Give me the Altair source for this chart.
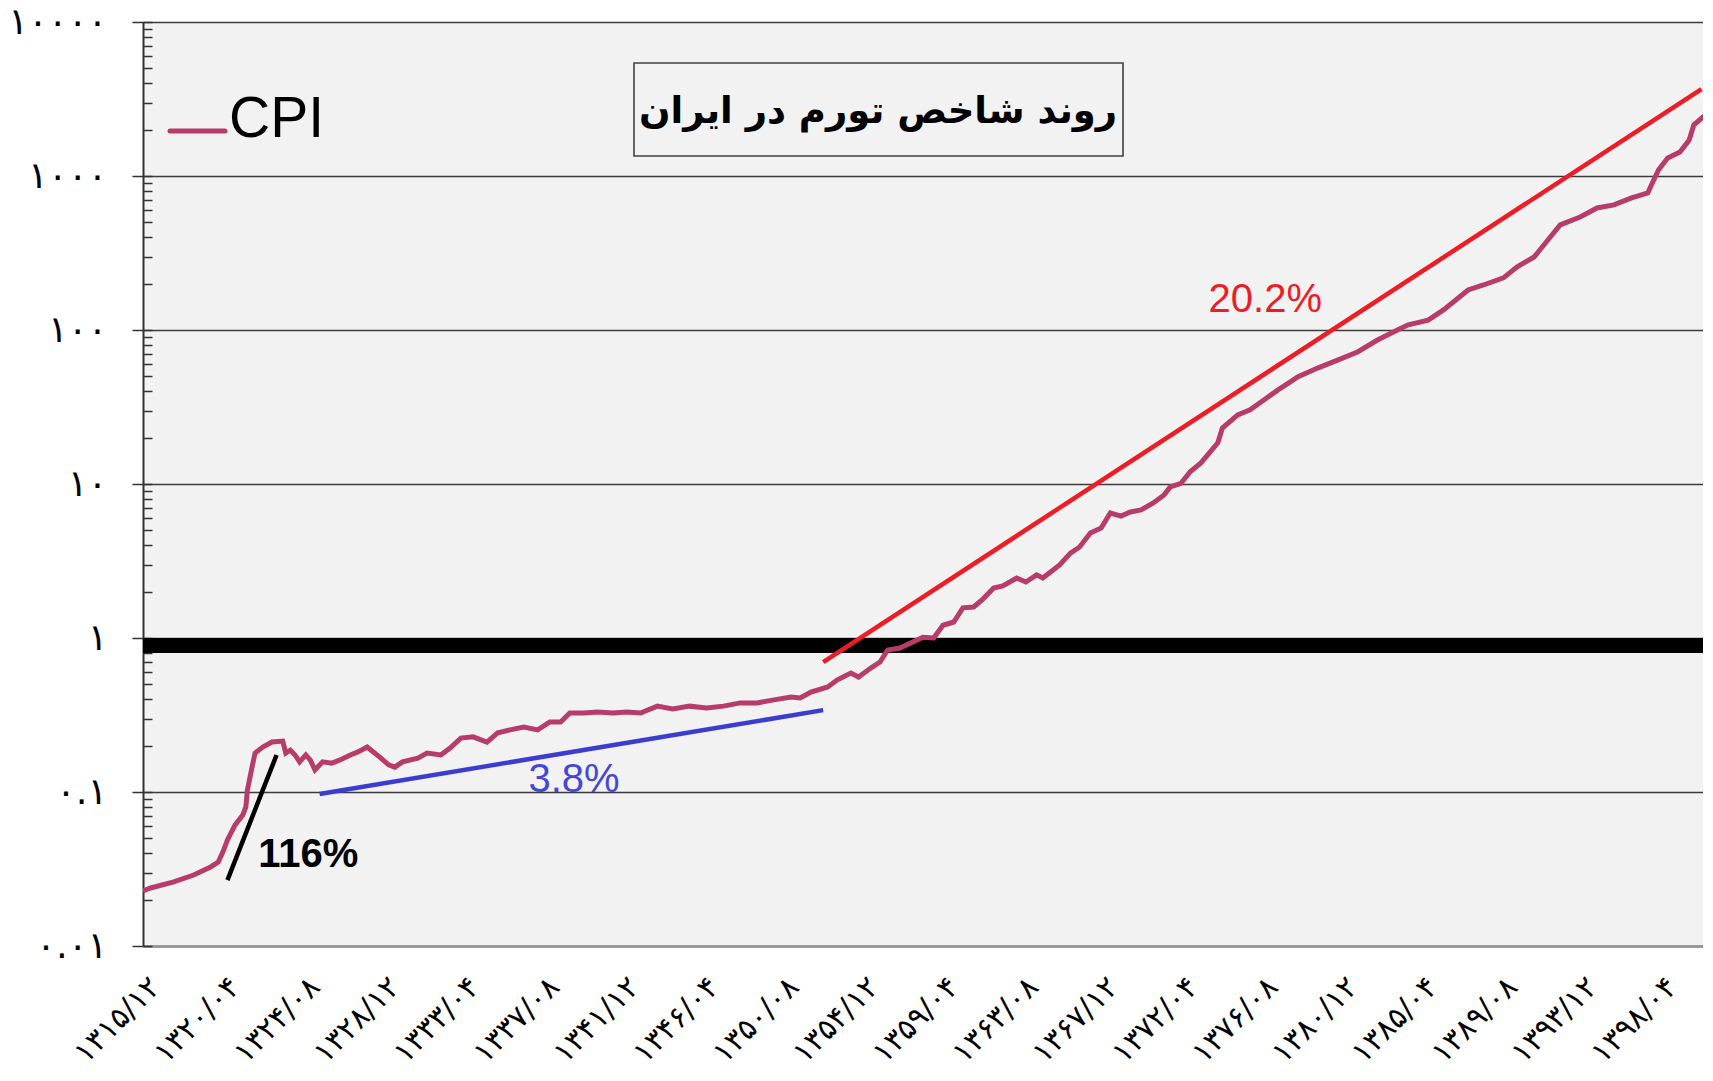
import altair as alt
import pandas as pd

# ---- data (month index counted from 1315/12) ----
month_index = [0, 5, 20, 33, 44, 49, 52, 55, 60, 65,
               67, 68, 71, 73, 78, 84, 91, 93, 96, 99,
               102, 106, 109, 112, 117, 123, 128, 135, 140, 146,
               150, 154, 160, 164, 169, 179, 185, 194, 200, 207,
               215, 224, 231, 239, 248, 257, 265, 272, 278, 287,
               296, 306, 315, 324, 335, 345, 356, 367, 378, 389,
               400, 410, 422, 428, 435, 446, 452, 461, 466, 474,
               480, 485, 493, 500, 508, 515, 521, 528, 534, 541,
               547, 554, 560, 569, 575, 582, 586, 597, 604, 610,
               617, 624, 630, 637, 643, 650, 658, 665, 669, 676,
               682, 689, 700, 703, 713, 721, 730, 739, 747, 752,
               765, 778, 791, 804, 817, 824, 837, 847, 863, 873,
               886, 895, 906, 915, 923, 936, 947, 958, 969, 980,
               983, 987, 993, 1001, 1007, 1010, 1016, 1023]
cpi = [0.0228, 0.0238, 0.0261, 0.0289, 0.0326, 0.0351, 0.0407, 0.0488, 0.0611, 0.0710,
       0.080, 0.103, 0.145, 0.179, 0.196, 0.211, 0.214, 0.179, 0.187, 0.174,
       0.157, 0.174, 0.161, 0.139, 0.157, 0.154, 0.161, 0.174, 0.182, 0.196,
       0.182, 0.169, 0.150, 0.145, 0.157, 0.166, 0.179, 0.174, 0.193, 0.224,
       0.228, 0.211, 0.242, 0.253, 0.264, 0.253, 0.285, 0.285, 0.326, 0.326,
       0.331, 0.326, 0.331, 0.326, 0.361, 0.346, 0.361, 0.351, 0.361, 0.379,
       0.379, 0.395, 0.414, 0.408, 0.446, 0.481, 0.533, 0.593, 0.558, 0.638,
       0.698, 0.836, 0.861, 0.929, 1.01, 1.0, 1.21, 1.27, 1.57, 1.59,
       1.79, 2.11, 2.18, 2.45, 2.31, 2.57, 2.45, 2.98, 3.56, 3.90,
       4.81, 5.18, 6.48, 6.19, 6.58, 6.78, 7.53, 8.49, 9.57, 10.1,
       12.0, 13.7, 18.5, 23.1, 28.1, 30.3, 35.1, 40.7, 45.9, 49.5,
       56.6, 63.8, 72.0, 86.1, 100, 108, 116, 135, 182, 196,
       218, 257, 298, 384, 481, 542, 620, 649, 719, 776,
       901, 1094, 1309, 1432, 1714, 2143, 2415, 2723]

x_tick_labels = ["۱۳۱۵/۱۲", "۱۳۲۰/۰۴", "۱۳۲۴/۰۸", "۱۳۲۸/۱۲", "۱۳۳۳/۰۴",
                 "۱۳۳۷/۰۸", "۱۳۴۱/۱۲", "۱۳۴۶/۰۴", "۱۳۵۰/۰۸", "۱۳۵۴/۱۲",
                 "۱۳۵۹/۰۴", "۱۳۶۳/۰۸", "۱۳۶۷/۱۲", "۱۳۷۲/۰۴", "۱۳۷۶/۰۸",
                 "۱۳۸۰/۱۲", "۱۳۸۵/۰۴", "۱۳۸۹/۰۸", "۱۳۹۳/۱۲", "۱۳۹۸/۰۴"]
tick_step = 52  # months between labels

y_tick_values = [0.01, 0.1, 1, 10, 100, 1000, 10000]
y_tick_labels = ["۰.۰۱", "۰.۱", "۱", "۱۰", "۱۰۰", "۱۰۰۰", "۱۰۰۰۰"]

trend_names = ["116%", "3.8%", "20.2%"]
trend_month_start = [55, 115, 443]
trend_month_end = [87, 443, 1015]
trend_value_start = [0.0268, 0.097, 0.698]
trend_value_end = [0.174, 0.340, 3670]
label_month = [75, 251, 694]
label_value = [0.0326, 0.1, 131]

band_value = 0.894
title_text = "روند شاخص تورم در ایران"
legend_text = "CPI"

# ---- styles ----
W, H = 1560, 924
X_MAX = 1016
CPI_COLOR = "#b83c6a"
trend_colors = ["#000000", "#3c3cd0", "#ee1c25"]
text_colors = ["#000000", "#4646d8", "#ee1c25"]
text_weights = ["bold", "normal", "normal"]
LATIN = "Liberation Sans"
PERSIAN = "DejaVu Sans"

xscale = alt.Scale(domain=[0, X_MAX], nice=False, zero=False)
yscale = alt.Scale(type="log", domain=[0.01, 10000], nice=False)

parts = []
for v, lab in sorted(zip(y_tick_values, y_tick_labels), reverse=True):
    parts.append(f"datum.value >= {v * 0.999} ? '{lab}'")
y_label_expr = " : ".join(parts) + " : ''"

x_tick_values = [i * tick_step for i in range(len(x_tick_labels))]
xparts = []
for v, lab in zip(x_tick_values, x_tick_labels):
    xparts.append(f"abs(datum.value - {v}) < 1 ? '{lab}'")
x_label_expr = " : ".join(xparts) + " : ''"

minor_vals = []
for d in [0.01, 0.1, 1, 10, 100, 1000]:
    for k in range(1, 10):
        minor_vals.append(round(k * d, 6))
minor_vals.append(10000)

x_axis = alt.Axis(orient="bottom", values=x_tick_values, labelExpr=x_label_expr, labelAngle=-45,
                  labelAlign="right", labelBaseline="middle", labelFont=PERSIAN,
                  labelFontSize=30, labelColor="#000", labelPadding=36, labelOffset=12,
                  ticks=False, domainColor="#9a9a9a", domainWidth=3, grid=False,
                  title=None, labelOverlap=False, labelBound=False, labelFlush=False)
y_axis = alt.Axis(orient="left", values=y_tick_values, labelExpr=y_label_expr, labelFont=PERSIAN,
                  labelFontSize=37, labelColor="#000", labelPadding=25,
                  labelBaseline="middle", tickSize=11, tickColor="#333", tickWidth=1.5,
                  domainColor="#333", domainWidth=2, grid=True, gridColor="#3c3c3c",
                  gridWidth=1.6, title=None, labelOverlap=False, labelFlush=False)
minor_axis = alt.Axis(orient="left", offset=-9, values=minor_vals, tickSize=9,
                      tickColor="#333", tickWidth=1.5, labels=False, domain=False,
                      grid=False, title=None)

cpi_df = pd.DataFrame({"m": month_index, "cpi": cpi})

# dedicated layer carrying the x axis and the major y axis
axis_layer = alt.Chart(cpi_df).mark_line(opacity=0, clip=True).encode(
    x=alt.X("m:Q", scale=xscale, axis=x_axis),
    y=alt.Y("cpi:Q", scale=yscale, axis=y_axis),
)

band = alt.Chart(pd.DataFrame({"v": [band_value]})).mark_rule(color="#000", strokeWidth=15).encode(
    y=alt.Y("v:Q", scale=yscale, axis=minor_axis)
)

layers = [axis_layer, band]
for i, name in enumerate(trend_names):
    tdf = pd.DataFrame({"m": [trend_month_start[i], trend_month_end[i]],
                        "v": [trend_value_start[i], trend_value_end[i]]})
    layers.append(alt.Chart(tdf).mark_line(color=trend_colors[i], strokeWidth=4.5).encode(
        x=alt.X("m:Q", scale=xscale, axis=x_axis),
        y=alt.Y("v:Q", scale=yscale, axis=None),
    ))
layers.append(alt.Chart(cpi_df).mark_line(color=CPI_COLOR, strokeWidth=5, clip=True).encode(
    x=alt.X("m:Q", scale=xscale, axis=x_axis),
    y=alt.Y("cpi:Q", scale=yscale, axis=None),
))
for i, name in enumerate(trend_names):
    ldf = pd.DataFrame({"m": [label_month[i]], "v": [label_value[i]], "t": [name]})
    layers.append(alt.Chart(ldf).mark_text(align="left", baseline="alphabetic", font=LATIN,
                                           fontSize=40, fontWeight=text_weights[i],
                                           color=text_colors[i]).encode(
        x=alt.X("m:Q", scale=xscale, axis=x_axis),
        y=alt.Y("v:Q", scale=yscale, axis=None),
        text="t:N",
    ))

one = alt.Data(values=[{}])
title_box = alt.Chart(one).mark_rect(fill="#f2f2f2", stroke="#404040", strokeWidth=1.6).encode(
    x=alt.value(491), x2=alt.value(980), y=alt.value(41), y2=alt.value(134))
title_mark = alt.Chart(one).mark_text(text=title_text, font=PERSIAN, fontSize=37,
                                      fontWeight="bold", color="#000", align="center",
                                      baseline="middle").encode(
    x=alt.value(735), y=alt.value(90))
legend_line = alt.Chart(one).mark_rule(color=CPI_COLOR, strokeWidth=5, strokeCap="round").encode(
    x=alt.value(27), x2=alt.value(82), y=alt.value(109))
legend_label = alt.Chart(one).mark_text(text=legend_text, font=LATIN, fontSize=57, color="#000",
                                        align="left", baseline="alphabetic").encode(
    x=alt.value(86), y=alt.value(115))

layers += [title_box, title_mark, legend_line, legend_label]

chart = alt.layer(*layers).resolve_axis(y="independent").properties(
    width=W, height=H,
    autosize=alt.AutoSizeParams(type="none"),
    padding={"left": 135, "top": 14, "right": 0, "bottom": 131},
    background="#ffffff",
).configure_view(fill="#f2f2f2", stroke=None)

chart.save("out.html", embed_options={"renderer": "svg", "actions": False})
